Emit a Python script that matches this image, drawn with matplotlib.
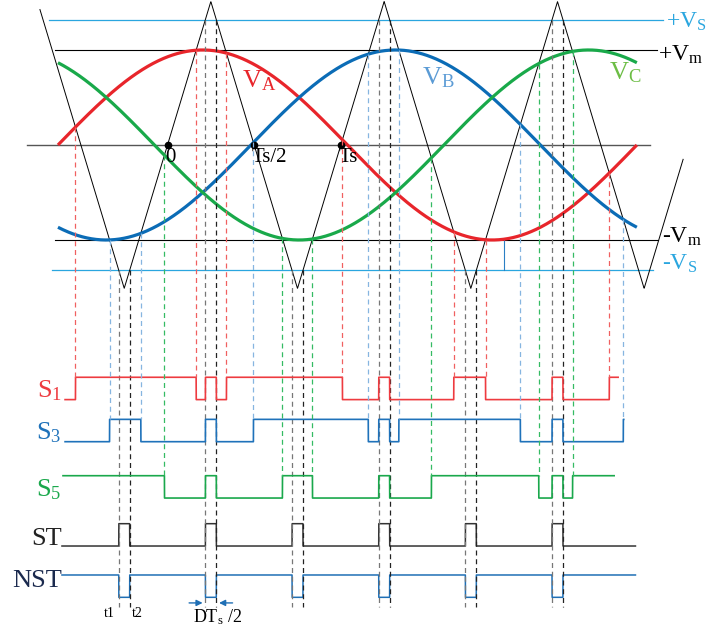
import numpy as np
from matplotlib import pyplot as plt

plt.rcParams['font.family'] = ['Liberation Serif', 'DejaVu Serif']
plt.rcParams['mathtext.fontset'] = 'custom'
plt.rcParams['mathtext.rm'] = 'Liberation Serif'
plt.rcParams['mathtext.it'] = 'Liberation Serif:italic'

# time is measured in carrier periods Ts, voltage in units of Vm
Vm = 1.0
Vs = 1.32                 # shoot-through envelope
carrier_amp = 1.51
carrier_span = (-0.736, 2.975)
ref_period = 3.34         # period of the three-phase reference, in Ts
ref_start = -0.632        # rising zero crossing of V_A

phase_names = ['A', 'B', 'C']
phase_shift = [0, -120, 120]
phase_colors = ['#e8252b', '#0b6cb6', '#19a94a']
label_colors = ['#e8252b', '#5b9bd5', '#6cbd45']
dash_colors = ['#f06060', '#86b5e0', '#35bb63']
label_pos = [(0.43, 0.68), (1.47, 0.71), (2.545, 0.76)]

# gate signals S1, S3, S5 (low level, start, end)
switch_names = ['S$_1$', 'S$_3$', 'S$_5$']
switch_colors = ['#ee3b40', '#1f72ba', '#1aa84c']
switch_low = [-2.68, -3.123, -3.716]
switch_start = [-0.591, -0.591, -0.603]
switch_end = [2.60, 2.632, 2.577]
pulse_h = 0.235

st_low = -4.221
nst_high = -4.526
st_span = (-0.609, 2.70)
dash_bottom = -4.86

marks = [0, 0.5, 1.0]
mark_labels = ['0', 'Ts/2', 'Ts']


def carrier(t):
    d = np.abs(np.mod(t - 0.25 + 0.5, 1.0) - 0.5)
    return carrier_amp * (1 - 4 * d)


def reference(t, shift):
    return Vm * np.sin(2 * np.pi * (t - ref_start) / ref_period + np.radians(shift))


def crossings(t, f):
    idx = np.where(np.sign(f[:-1]) * np.sign(f[1:]) < 0)[0]
    return t[idx] - f[idx] * (t[idx + 1] - t[idx]) / (f[idx + 1] - f[idx])


fig = plt.figure(figsize=(7.06, 6.3), dpi=100)
ax = fig.add_axes([0, 0, 1, 1])
ax.set_xlim(-0.9665, 3.107)
ax.set_ylim(-5.105, 1.526)
ax.axis('off')

# reference levels
ax.plot([-0.81, 2.784], [0, 0], color='#555555', lw=1.0)
ax.plot([-0.65, 2.825], [Vm, Vm], color='black', lw=0.8)
ax.plot([-0.65, 2.83], [-Vm, -Vm], color='black', lw=0.8)
ax.plot([-0.684, 2.859], [Vs, Vs], color='#2aa6df', lw=0.9)
ax.plot([-0.667, 2.801], [-Vs, -Vs], color='#2aa6df', lw=0.9)
ax.plot([1.942, 1.942], [-Vm, -Vs], color='#2a7fc4', lw=0.8)

# triangular carrier
tc = np.linspace(carrier_span[0], carrier_span[1], 4000)
ax.plot(tc, carrier(tc), color='black', lw=0.7)

# three-phase references
tr = np.linspace(ref_start, ref_start + ref_period, 1000)
for k in range(3):
    ax.plot(tr, reference(tr, phase_shift[k]), color=phase_colors[k], lw=2.3,
            solid_capstyle='butt')
    ax.text(label_pos[k][0], label_pos[k][1], 'V$_\\mathrm{%s}$' % phase_names[k],
            color=label_colors[k], fontsize=19, va='center')

for m, lab in zip(marks, mark_labels):
    ax.plot(m, 0, 'o', color='black', ms=4.5)
    ax.text(m - 0.015, -0.03, lab, fontsize=15, va='top', ha='left')

# level labels on the right
ax.text(2.877, 1.30, '+V$_\\mathrm{S}$', color='#2aa6df', fontsize=17, va='center')
ax.text(2.830, 0.95, '+V$_\\mathrm{m}$', color='black', fontsize=17, va='center')
ax.text(2.853, -0.97, '-V$_\\mathrm{m}$', color='black', fontsize=17, va='center')
ax.text(2.853, -1.25, '-V$_\\mathrm{S}$', color='#2aa6df', fontsize=17, va='center')

# shoot-through signal: carrier above +Vs or below -Vs
ts = np.linspace(st_span[0], st_span[1], 60000)
st = (carrier(ts) > Vs) | (carrier(ts) < -Vs)
ax.plot(ts, st_low + pulse_h * st, color='#333333', lw=1.1)
ax.plot(ts, nst_high - pulse_h * st, color='#1f6fb5', lw=1.1)
ax.text(-0.61, st_low + 0.07, 'ST', fontsize=19, ha='right', va='center', color='#222222')
ax.text(-0.61, nst_high - 0.06, 'NST', fontsize=19, ha='right', va='center', color='#1b2a4e')

st_edges = np.sort(np.concatenate([crossings(ts, carrier(ts) - Vs),
                                   crossings(ts, carrier(ts) + Vs)]))
for i, e in enumerate(st_edges):
    top = Vs if carrier(e) > 0 else -Vs
    ax.plot([e, e], [top, dash_bottom], color='#777777' if i % 2 == 0 else '#222222',
            lw=0.9, ls=(0, (4, 3)))

# gate signals: reference above carrier, or shoot-through
for k in range(3):
    t = np.linspace(switch_start[k], switch_end[k], 60000)
    ref = reference(t, phase_shift[k])
    car = carrier(t)
    on = (ref > car) | (car > Vs) | (car < -Vs)
    ax.plot(t, switch_low[k] + pulse_h * on, color=switch_colors[k], lw=1.2)
    ax.text(-0.61, switch_low[k] + 0.09, switch_names[k], color=switch_colors[k],
            fontsize=19, ha='right', va='center')
    for e in crossings(t, ref - car):
        ax.plot([e, e], [carrier(e), switch_low[k] + pulse_h], color=dash_colors[k],
                lw=0.9, ls=(0, (4, 3)))

# t1, t2 and the DTs/2 width
valley = st_edges[:2]
ax.text(valley[0] - 0.055, -4.93, 't1', fontsize=10, ha='center', va='center')
ax.text(valley[1] + 0.045, -4.93, 't2', fontsize=10, ha='center', va='center')
peak = st_edges[2:4]
arrow = dict(arrowstyle='-|>', color='#1f6fb5', lw=1.0, mutation_scale=9)
ax.annotate('', xy=(peak[0], -4.82), xytext=(peak[0] - 0.11, -4.82), arrowprops=arrow)
ax.annotate('', xy=(peak[1], -4.82), xytext=(peak[1] + 0.11, -4.82), arrowprops=arrow)
ax.text(0.29, -4.97, 'DT$_\\mathrm{s}$ /2', fontsize=13, ha='center', va='center')

plt.savefig('out.png', dpi=100)
